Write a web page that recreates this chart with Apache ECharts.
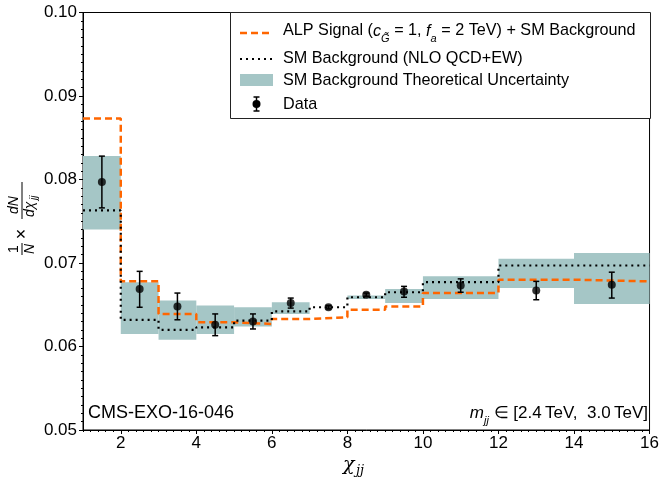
<!DOCTYPE html>
<html>
<head>
<meta charset="utf-8">
<script src="https://cdn.jsdelivr.net/npm/echarts@6/dist/echarts.min.js"></script>
<style>
  html, body { margin: 0; padding: 0; background: #fff; }
  #chart { width: 662px; height: 481px; }
</style>
</head>
<body>
<div id="chart"></div>
<script>
  // bin edges in chi_jj
  var edges = [1, 2, 3, 4, 5, 6, 7, 8, 9, 10, 12, 14, 16];
  // per-bin values (12 bins)
  var smBkg = [0.0763, 0.0632, 0.0620, 0.0623, 0.0631, 0.0642, 0.0647, 0.0659, 0.0665, 0.0677, 0.0697, 0.0697];
  var alpSig = [0.0873, 0.0678, 0.0639, 0.0629, 0.0627, 0.0633, 0.0635, 0.0644, 0.0648, 0.0664, 0.0680, 0.0678];
  var bandLo = [0.0740, 0.0615, 0.0608, 0.0615, 0.0624, 0.0639, 0.0647, 0.0657, 0.0652, 0.0657, 0.0670, 0.0651];
  var bandHi = [0.0828, 0.0677, 0.0655, 0.0649, 0.0647, 0.0653, 0.0647, 0.0661, 0.0669, 0.0684, 0.0705, 0.0712];
  // data points
  var dataX = [1.5, 2.5, 3.5, 4.5, 5.5, 6.5, 7.5, 8.5, 9.5, 11, 13, 15];
  var dataY = [0.0797, 0.0669, 0.0648, 0.0626, 0.0630, 0.0652, 0.0647, 0.0662, 0.0666, 0.0673, 0.0667, 0.0674];
  var errLo = [0.0766, 0.0647, 0.0632, 0.0613, 0.0621, 0.0646, 0.0645, 0.0660, 0.0659, 0.0665, 0.0656, 0.0658];
  var errHi = [0.0828, 0.0690, 0.0664, 0.0639, 0.0639, 0.0658, 0.0649, 0.0664, 0.0672, 0.0681, 0.0678, 0.0689];
  var xTicks = [2, 4, 6, 8, 10, 12, 14, 16];

  var orange = '#ff6600';
  var band = '#a5c6c6';
  var font = '"Liberation Sans", Arial, sans-serif';

  function stepPoints(vals) {
    var pts = [];
    for (var i = 0; i < vals.length; i++) {
      pts.push([edges[i], vals[i]]);
    }
    pts.push([edges[edges.length - 1], vals[vals.length - 1]]);
    return pts;
  }

  var bandData = [];
  for (var i = 0; i < bandLo.length; i++) {
    bandData.push([edges[i], edges[i + 1], bandLo[i], bandHi[i]]);
  }
  var errData = [];
  var ptData = [];
  for (var j = 0; j < dataX.length; j++) {
    errData.push([dataX[j], errLo[j], errHi[j]]);
    ptData.push([dataX[j], dataY[j]]);
  }

  var chart = echarts.init(document.getElementById('chart'));

  var legX = 240, legTx = 283;
  chart.setOption({
    animation: false,
    grid: {
      left: 83, right: 10, top: 12.5, bottom: 51,
      show: true, borderColor: '#000', borderWidth: 1
    },
    xAxis: [{
      type: 'value', min: 1, max: 16,
      axisLine: { lineStyle: { color: '#000' } },
      axisTick: { customValues: xTicks, length: 4, lineStyle: { color: '#000' } },
      axisLabel: { customValues: xTicks, color: '#000', fontSize: 17, fontFamily: font, margin: 5 },
      splitLine: { show: false }
    }, {
      type: 'value', min: 1, max: 16, interval: 0.2, position: 'bottom',
      axisLine: { show: false },
      axisTick: { show: true, length: 2, lineStyle: { color: '#000' } },
      axisLabel: { show: false },
      splitLine: { show: false }
    }],
    yAxis: {
      type: 'value', min: 0.05, max: 0.10, interval: 0.01,
      axisLine: { show: true, lineStyle: { color: '#000' } },
      axisTick: { length: 4, lineStyle: { color: '#000' } },
      minorTick: { show: true, splitNumber: 10, length: 2, lineStyle: { color: '#000' } },
      axisLabel: {
        color: '#000', fontSize: 17, fontFamily: font, margin: 6,
        formatter: function (v) { return v.toFixed(2); }
      },
      splitLine: { show: false }
    },
    series: [
      {
        name: 'Band', type: 'custom', z: 1,
        data: bandData,
        encode: { x: [0, 1], y: [2, 3] },
        renderItem: function (params, api) {
          var p0 = api.coord([api.value(0), api.value(3)]);
          var p1 = api.coord([api.value(1), api.value(2)]);
          return {
            type: 'rect',
            shape: { x: p0[0], y: p0[1], width: p1[0] - p0[0], height: p1[1] - p0[1] },
            style: { fill: band }
          };
        }
      },
      {
        name: 'ALP', type: 'line', step: 'end', z: 3,
        data: stepPoints(alpSig), symbol: 'none',
        lineStyle: { color: orange, width: 2.5, type: [7, 4] }
      },
      {
        name: 'SM', type: 'line', step: 'end', z: 4,
        data: stepPoints(smBkg), symbol: 'none',
        lineStyle: { color: '#000', width: 2.2, type: [2, 4] }
      },
      {
        name: 'Err', type: 'custom', z: 5,
        data: errData,
        encode: { x: 0, y: [1, 2] },
        renderItem: function (params, api) {
          var lo = api.coord([api.value(0), api.value(1)]);
          var hi = api.coord([api.value(0), api.value(2)]);
          var st = { stroke: '#000', lineWidth: 1.5 };
          return {
            type: 'group',
            children: [
              { type: 'line', shape: { x1: lo[0], y1: lo[1], x2: hi[0], y2: hi[1] }, style: st },
              { type: 'line', shape: { x1: lo[0] - 3, y1: lo[1], x2: lo[0] + 3, y2: lo[1] }, style: st },
              { type: 'line', shape: { x1: hi[0] - 3, y1: hi[1], x2: hi[0] + 3, y2: hi[1] }, style: st }
            ]
          };
        }
      },
      {
        name: 'Data', type: 'scatter', z: 6,
        data: ptData, symbol: 'circle', symbolSize: 8,
        itemStyle: { color: '#000' }
      }
    ],
    graphic: [
      // legend box
      { type: 'rect', z: 10, shape: { x: 230.5, y: 12.5, width: 420, height: 106 },
        style: { fill: '#fff', stroke: '#222', lineWidth: 1 } },
      { type: 'line', z: 11, shape: { x1: legX, y1: 33, x2: legX + 33, y2: 33 },
        style: { stroke: orange, lineWidth: 2.5, lineDash: [7, 4] } },
      { type: 'line', z: 11, shape: { x1: legX, y1: 59, x2: legX + 33, y2: 59 },
        style: { stroke: '#000', lineWidth: 2.2, lineDash: [2, 4] } },
      { type: 'rect', z: 11, shape: { x: legX, y: 74, width: 33, height: 12 },
        style: { fill: band } },
      { type: 'line', z: 11, shape: { x1: 256.5, y1: 97, x2: 256.5, y2: 111 },
        style: { stroke: '#000', lineWidth: 1.5 } },
      { type: 'line', z: 11, shape: { x1: 253.5, y1: 97, x2: 259.5, y2: 97 },
        style: { stroke: '#000', lineWidth: 1.5 } },
      { type: 'line', z: 11, shape: { x1: 253.5, y1: 111, x2: 259.5, y2: 111 },
        style: { stroke: '#000', lineWidth: 1.5 } },
      { type: 'circle', z: 11, shape: { cx: 256.5, cy: 104, r: 4 }, style: { fill: '#000' } },
      { type: 'text', z: 11, x: legTx, y: 31,
        style: {
          text: 'ALP Signal ({i|c}{s|G\u0303} = 1, {i|f}{s|a} = 2 TeV) + SM Background',
          font: '16.2px ' + font, fill: '#000', textVerticalAlign: 'middle',
          rich: {
            i: { fontSize: 16.2, fontStyle: 'italic', fontFamily: font },
            s: { fontSize: 11, fontStyle: 'italic', fontFamily: font, verticalAlign: 'bottom', lineHeight: 26 }
          }
        } },
      { type: 'text', z: 11, x: legTx, y: 58.5,
        style: { text: 'SM Background (NLO QCD+EW)', font: '16.2px ' + font, fill: '#000', textVerticalAlign: 'middle' } },
      { type: 'text', z: 11, x: legTx, y: 81,
        style: { text: 'SM Background Theoretical Uncertainty', font: '16.2px ' + font, fill: '#000', textVerticalAlign: 'middle' } },
      { type: 'text', z: 11, x: legTx, y: 104.5,
        style: { text: 'Data', font: '16.2px ' + font, fill: '#000', textVerticalAlign: 'middle' } },
      // annotations
      { type: 'text', x: 88, y: 413,
        style: { text: 'CMS-EXO-16-046', font: '18px ' + font, fill: '#000', textVerticalAlign: 'middle' } },
      { type: 'text', x: 648, y: 413,
        style: {
          text: '{i|m}{s|jj} \u2208 [2.4\u2009TeV,  3.0\u2009TeV]',
          font: '17px ' + font, fill: '#000', textAlign: 'right', textVerticalAlign: 'middle',
          rich: {
            i: { fontSize: 17, fontStyle: 'italic', fontFamily: font },
            s: { fontSize: 11, fontStyle: 'italic', fontFamily: font, verticalAlign: 'bottom', lineHeight: 26 }
          }
        } },
      // x axis title
      { type: 'text', x: 343, y: 465,
        style: { text: '\u03c7', font: 'italic 19px "DejaVu Serif", serif', fill: '#000', textVerticalAlign: 'middle' } },
      { type: 'text', x: 356, y: 471,
        style: { text: 'jj', font: 'italic 13px "DejaVu Serif", serif', fill: '#000', textVerticalAlign: 'middle' } },
      // y axis title, rotated
      {
        type: 'group', x: 22, y: 218, rotation: Math.PI / 2,
        children: [
          { type: 'text', x: -31, y: -1, style: { text: '1', font: '14px ' + font, fill: '#000', textAlign: 'center', textVerticalAlign: 'bottom' } },
          { type: 'line', shape: { x1: -37, y1: 0, x2: -25, y2: 0 }, style: { stroke: '#000', lineWidth: 1 } },
          { type: 'text', x: -31, y: 1, style: { text: 'N', font: 'italic 14px ' + font, fill: '#000', textAlign: 'center', textVerticalAlign: 'top' } },
          { type: 'text', x: -16, y: 0, style: { text: '\u00d7', font: '18px ' + font, fill: '#000', textAlign: 'center', textVerticalAlign: 'middle' } },
          { type: 'text', x: 13, y: -1, style: { text: 'dN', font: 'italic 14px ' + font, fill: '#000', textAlign: 'center', textVerticalAlign: 'bottom' } },
          { type: 'line', shape: { x1: -1, y1: 0, x2: 36, y2: 0 }, style: { stroke: '#000', lineWidth: 1 } },
          { type: 'text', x: 1, y: 1, style: { text: 'd\u03c7', font: 'italic 14px ' + font, fill: '#000', textAlign: 'left', textVerticalAlign: 'top' } },
          { type: 'text', x: 18, y: 7, style: { text: 'jj', font: 'italic 10px ' + font, fill: '#000', textAlign: 'left', textVerticalAlign: 'top' } }
        ]
      }
    ]
  });
</script>
</body>
</html>
